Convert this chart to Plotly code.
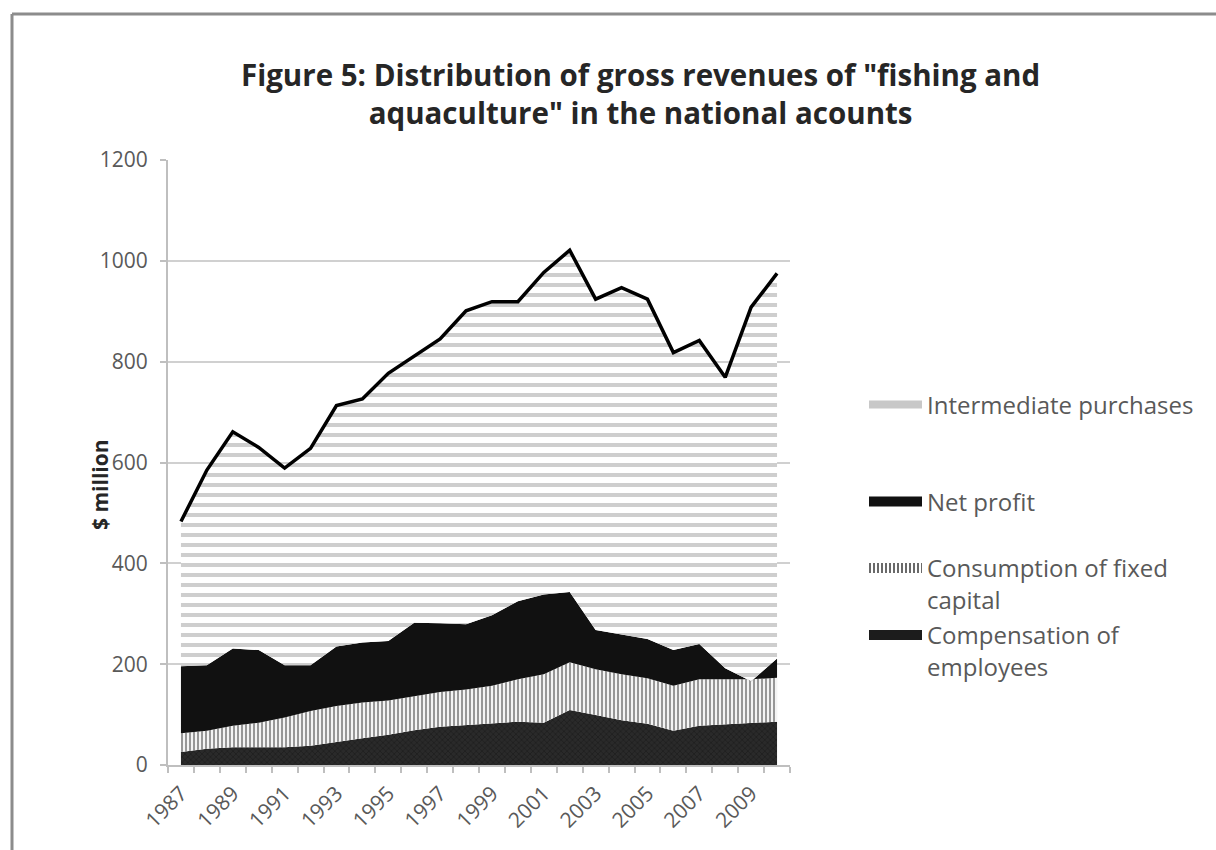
import numpy as np
import plotly.graph_objects as go

years = list(range(1987, 2011))
compensation = [26, 32, 35, 35, 35, 38, 46, 53, 60, 69, 76, 79, 83, 86, 84, 109, 99, 89, 82, 68, 78, 81, 84, 86]
fixed_capital = [37, 36, 43, 49, 59, 69, 71, 71, 68, 67, 69, 71, 74, 84, 96, 95, 91, 91, 90, 89, 92, 89, 86, 87]
net_profit = [133, 130, 153, 144, 104, 91, 118, 119, 118, 146, 136, 129, 140, 155, 158, 139, 78, 79, 78, 71, 70, 22, -4, 38]
intermediate = [287, 387, 430, 402, 391, 430, 478, 483, 531, 528, 564, 622, 622, 594, 639, 678, 656, 688, 674, 590, 602, 577, 742, 764]
tick_years = list(range(1987, 2011, 2))
tick_labels = [str(y) for y in tick_years]
legend_names = ["Intermediate purchases", "Net profit", "Consumption of fixed<br>capital",
                "Compensation of<br>employees"]

total = (np.array(compensation) + np.array(fixed_capital) + np.array(net_profit)
         + np.array(intermediate)).tolist()

FONT = "Open Sans"
GRAY = "#595959"
DARK = "#262626"

W, H = 1216, 850
L, R, T, B = 168, 426, 160, 85
pw, ph = W - L - R, H - T - B


def px(x):
    return (x - L) / pw


def py(y):
    return (H - B - y) / ph


fig = go.Figure()
fig.add_trace(go.Scatter(
    x=years, y=compensation, stackgroup="s", showlegend=False,
    mode="lines", line=dict(width=0, color="#1e1e1e"), fillcolor="#262626",
    fillpattern=dict(shape="x", fgcolor="#0a0a0a", bgcolor="#2a2a2a", size=4, solidity=0.3)))
fig.add_trace(go.Scatter(
    x=years, y=fixed_capital, stackgroup="s", showlegend=False,
    mode="lines", line=dict(width=0, color="#777777"),
    fillpattern=dict(shape="|", fgcolor="#3a3a3a", bgcolor="#f4f4f4", size=4, solidity=0.5)))
fig.add_trace(go.Scatter(
    x=years, y=net_profit, stackgroup="s", showlegend=False,
    mode="lines", line=dict(width=0, color="#111111"), fillcolor="#111111"))
fig.add_trace(go.Scatter(
    x=years, y=intermediate, stackgroup="s", showlegend=False,
    mode="lines", line=dict(width=0, color="#bbbbbb"),
    fillpattern=dict(shape="-", fgcolor="#9e9e9e", bgcolor="#ffffff", size=10, solidity=0.4)))
fig.add_trace(go.Scatter(
    x=years, y=total, mode="lines", line=dict(width=3.5, color="#000000"),
    showlegend=False, hoverinfo="skip"))

# legend entries (one legend each, for exact placement)
leg_styles = [
    dict(color="#c8c8c8", width=8),
    dict(color="#111111", width=12),
    dict(color="#6a6a6a", width=12, dash="2px,2px"),
    dict(color="#1c1c1c", width=12),
]
leg_ids = ["legend", "legend2", "legend3", "legend4"]
for name, st, lid in zip(legend_names, leg_styles, leg_ids):
    fig.add_trace(go.Scatter(x=[None], y=[None], mode="lines", name=name, line=st,
                             legend=lid, showlegend=True, hoverinfo="skip"))

leg_common = dict(xanchor="left", yanchor="middle", itemwidth=53, bgcolor="rgba(0,0,0,0)",
                  font=dict(size=24, color=GRAY, family=FONT), borderwidth=0)
leg_x = px(864)

fig.update_layout(
    width=W, height=H,
    margin=dict(l=L, r=R, t=T, b=B),
    paper_bgcolor="white", plot_bgcolor="white",
    font=dict(family=FONT, color=GRAY),
    xaxis=dict(
        range=[1986.5, 2010.5], tickmode="array", tickvals=tick_years, ticktext=tick_labels,
        tickangle=-45, ticks="", showgrid=False, showline=True, linecolor="#bfbfbf",
        linewidth=2, zeroline=False, tickfont=dict(size=21, color=GRAY, family=FONT),
        ticklabelstandoff=6,
        minor=dict(ticks="outside", tick0=1986.5, dtick=1, ticklen=6, tickcolor="#bfbfbf",
                   tickwidth=2, showgrid=False)),
    yaxis=dict(
        range=[0, 1200], dtick=200, tick0=0, showgrid=True, gridcolor="#d0d0d0", gridwidth=2,
        showline=True, linecolor="#bfbfbf", linewidth=2, ticks="outside", ticklen=6,
        tickcolor="#bfbfbf", tickwidth=2, zeroline=False, ticklabelstandoff=8,
        tickfont=dict(size=21, color=GRAY, family=FONT)),
    legend=dict(x=leg_x, y=py(405), **leg_common),
    legend2=dict(x=leg_x, y=py(502), **leg_common),
    legend3=dict(x=leg_x, y=py(584), valign="top", **leg_common),
    legend4=dict(x=leg_x, y=py(651), valign="top", **leg_common),
    annotations=[
        dict(text='Figure 5: Distribution of gross revenues of "fishing and<br>'
                  'aquaculture" in the national acounts',
             xref="paper", yref="paper",
             x=px(640), y=py(94), xanchor="center", yanchor="middle", showarrow=False,
             font=dict(family=FONT, size=29.5, color=DARK, weight="bold")),
        dict(text="$ million", xref="paper", yref="paper", textangle=-90,
             x=px(100), y=py(485), xanchor="center", yanchor="middle", showarrow=False,
             font=dict(family=FONT, size=21, color=DARK, weight="bold")),
    ],
    shapes=[
        dict(type="line", xref="paper", yref="paper", x0=px(12), x1=px(1216), y0=py(14), y1=py(14),
             line=dict(color="#8c8c8c", width=3)),
        dict(type="line", xref="paper", yref="paper", x0=px(12), x1=px(12), y0=py(14), y1=py(850),
             line=dict(color="#8c8c8c", width=3)),
    ],
)

fig.write_html("out.html", config={"displayModeBar": False},
               post_script="document.body.style.margin='0';")
